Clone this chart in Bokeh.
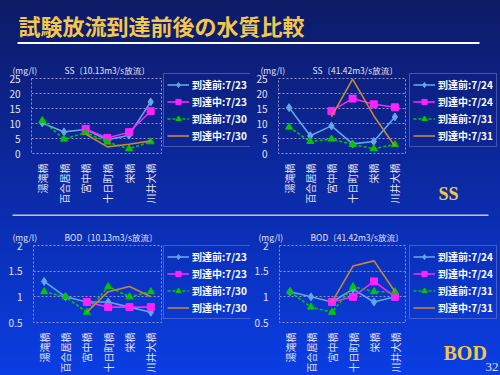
from math import pi
import numpy as np
from bokeh.plotting import figure
from bokeh.layouts import column, row
from bokeh.models import (Legend, LegendItem, Label, BoxAnnotation, FixedTicker,
                          Range1d, Plot)
from bokeh.embed import file_html
from bokeh.resources import INLINE

nan = float("nan")

# ---------------- data ----------------
stations = ["湯滝橋", "百合居橋", "宮中橋", "十日町橋", "栄橋", "川井大橋"]

ss1_labels = ["到達前:7/23", "到達中:7/23", "到達前:7/30", "到達中:7/30"]
ss1_pre_a = [10.2, 7.2, 8.0, 4.6, 6.1, 17.2]
ss1_mid_a = [nan, nan, 8.2, 5.2, 7.1, 14.1]
ss1_pre_b = [11.0, 4.8, 7.0, 3.8, 1.6, 3.9]
ss1_mid_b = [nan, nan, 6.5, 2.2, 3.1, 4.2]

ss2_labels = ["到達前:7/24", "到達中:7/24", "到達前:7/31", "到達中:7/31"]
ss2_pre_a = [15.3, 5.9, 9.2, 3.2, 4.0, 12.2]
ss2_mid_a = [nan, nan, 14.2, 18.3, 16.4, 15.4]
ss2_pre_b = [8.8, 4.0, 4.8, 3.0, 1.6, 3.0]
ss2_mid_b = [nan, nan, 12.2, 24.8, 12.6, 2.4]

bod1_labels = ss1_labels
bod1_pre_a = [1.3, 1.0, 0.9, 0.9, 0.8, 0.7]
bod1_mid_a = [nan, nan, 0.9, 0.8, 0.8, 0.8]
bod1_pre_b = [1.1, 1.0, 0.7, 1.2, 1.0, 1.1]
bod1_mid_b = [nan, nan, 0.7, 1.1, 1.2, 1.0]

bod2_labels = ss2_labels
bod2_pre_a = [1.1, 1.0, 0.9, 1.15, 0.9, 1.0]
bod2_mid_a = [nan, nan, 0.9, 1.0, 1.3, 1.0]
bod2_pre_b = [1.1, 0.8, 0.7, 1.2, 1.1, 1.1]
bod2_mid_b = [nan, nan, 0.9, 1.6, 1.7, 1.1]

ss_ticks = [0, 5, 10, 15, 20, 25]
bod_ticks = [0.5, 1, 1.5, 2]
bod_tick_labels = ["0.5", "1", "1.5", "2"]

main_title = "試験放流到達前後の水質比較"
ss1_title = "SS〔10.13m3/s放流〕"
ss2_title = "SS〔41.42m3/s放流〕"
bod1_title = "BOD〔10.13m3/s放流〕"
bod2_title = "BOD〔41.42m3/s放流〕"
unit_text = "(mg/l)"

# ---------------- style ----------------
JP = "Noto Sans CJK JP"
COLORS = ["#62a6e6", "#ff22ff", "#00c800", "#c8843c"]
MARKERS = ["diamond", "square", "triangle", None]
SIZES = [8, 7, 7, 0]
DASHES = ["solid", "solid", "3 2", "solid"]
TXT = "#e2e2f4"
GRID = "#9494cc"
GOLD = "#f3c84a"
HAS_FA = "frame_align" in Plot.properties()


def draw_series(p, xs, series):
    """Draw the four series on p; returns a list of renderer lists."""
    out = []
    for vals, c, m, s, d in zip(series, COLORS, MARKERS, SIZES, DASHES):
        y = np.array(vals, dtype=float)
        rs = [p.line(x=xs, y=y, line_color=c, line_width=1.6, line_dash=d)]
        if m:
            rs.append(p.scatter(x=xs, y=y, marker=m, size=s,
                                fill_color=c, line_color=c))
        out.append(rs)
    return out


def chart(width, height, left, right, top, bottom, yr, ticks, overrides,
          head, series, title_offset):
    p = figure(width=width, height=height, x_range=stations,
               y_range=Range1d(*yr), output_backend="svg",
               toolbar_location=None, min_border_left=left,
               min_border_right=right, min_border_top=top,
               min_border_bottom=bottom, background_fill_alpha=0,
               border_fill_alpha=0, outline_line_color=GRID,
               outline_line_dash="2 2", outline_line_width=1)
    p.title.text = unit_text + "\u3000\u3000\u3000\u00a0" + head
    p.title.text_font = JP
    p.title.text_font_size = "8.5px"
    p.title.text_font_style = "normal"
    p.title.text_color = TXT
    p.title.align = "left"
    p.title.offset = title_offset
    p.title.standoff = 6

    xa = p.xaxis[0]
    xa.major_label_orientation = pi / 2
    xa.major_label_text_font = JP
    xa.major_label_text_font_size = "10px"
    xa.major_label_text_color = TXT
    xa.axis_line_color = None
    xa.major_tick_line_color = None
    xa.minor_tick_line_color = None
    xa.major_label_standoff = 4

    ya = p.yaxis[0]
    ya.ticker = FixedTicker(ticks=ticks)
    if overrides:
        ya.major_label_overrides = overrides
    ya.major_label_text_font = JP
    ya.major_label_text_font_size = "10px"
    ya.major_label_text_color = TXT
    ya.axis_line_color = None
    ya.major_tick_line_color = None
    ya.minor_tick_line_color = None
    ya.major_label_standoff = 5

    p.xgrid.grid_line_color = None
    p.ygrid.ticker = FixedTicker(ticks=ticks)
    p.ygrid.grid_line_color = GRID
    p.ygrid.grid_line_dash = "2 2"

    draw_series(p, stations, series)
    return p


def blank(w, h, top=0):
    f = figure(width=w, height=h, x_range=Range1d(0, w),
               y_range=Range1d(0, h - top),
               output_backend="svg", toolbar_location=None, x_axis_type=None,
               y_axis_type=None, min_border=0, min_border_left=0,
               min_border_right=0, min_border_top=top, min_border_bottom=0,
               outline_line_color=None, background_fill_alpha=0,
               border_fill_alpha=0)
    f.grid.visible = False
    if HAS_FA:
        f.frame_align = False
    return f


def legend_fig(w, h, labels, top_gap):
    f = blank(w, h, top_gap)
    # legend swatches: same styles; a single NaN placeholder so nothing is drawn
    rs = draw_series(f, [nan], [[nan] for _ in labels])
    items = [LegendItem(label=lab, renderers=r) for lab, r in zip(labels, rs)]
    leg = Legend(items=items, location="top_left", margin=0,
                 padding=3, spacing=2, glyph_width=22, glyph_height=13,
                 label_height=13, label_standoff=3,
                 label_text_font=JP, label_text_font_size="10px",
                 label_text_font_style="bold", label_text_color="white",
                 background_fill_alpha=0, border_line_color="#7c88c8",
                 border_line_width=1)
    f.add_layout(leg, "center")
    return f


# ---------------- header ----------------
head = blank(500, 58)
head.add_layout(Label(x=18, y=34, text=main_title, text_font=JP,
                      text_font_size="22px", text_font_style="bold",
                      text_color=GOLD, text_baseline="middle"))
head.add_layout(BoxAnnotation(left=17, right=479, bottom=14.5, top=16.5,
                              fill_color="white", fill_alpha=1, line_color=None))

# separator strip: page y 208..218, line at ~212
sep = blank(500, 10)
sep.add_layout(BoxAnnotation(left=12, right=488, bottom=4.5, top=6,
                             fill_color="#d0d8f8", fill_alpha=0.9, line_color=None))

bod_over = {t: l for t, l in zip(bod_ticks, bod_tick_labels)}

p1 = chart(163, 150, 31, 2, 15, 55, (0, 25), ss_ticks, None, ss1_title,
           [ss1_pre_a, ss1_mid_a, ss1_pre_b, ss1_mid_b], -19)
l1 = legend_fig(87, 150, ss1_labels, 15)
p2 = chart(159, 150, 28, 4, 15, 55, (0, 25), ss_ticks, None, ss2_title,
           [ss2_pre_a, ss2_mid_a, ss2_pre_b, ss2_mid_b], -18)
l2 = legend_fig(91, 150, ss2_labels, 15)
p3 = chart(163, 157, 33, 2, 27, 52, (0.5, 2), bod_ticks, bod_over, bod1_title,
           [bod1_pre_a, bod1_mid_a, bod1_pre_b, bod1_mid_b], -21)
l3 = legend_fig(87, 157, bod1_labels, 27)
p4 = chart(159, 157, 29, 4, 27, 52, (0.5, 2), bod_ticks, bod_over, bod2_title,
           [bod2_pre_a, bod2_mid_a, bod2_pre_b, bod2_mid_b], -21)
l4 = legend_fig(91, 157, bod2_labels, 27)

l2.add_layout(Label(x=29, y=14.5, text="SS", text_font="Liberation Serif",
                    text_font_size="18px", text_font_style="bold",
                    text_color=GOLD, text_baseline="middle"))
l4.add_layout(Label(x=34, y=22.5, text="BOD", text_font="Liberation Serif",
                    text_font_size="20px", text_font_style="bold",
                    text_color=GOLD, text_baseline="middle"))
l4.add_layout(Label(x=76, y=9, text="32", text_font="Liberation Serif",
                    text_font_size="13px", text_color="#e0e0e0",
                    text_baseline="middle"))

layout = column(head, row(p1, l1, p2, l2, spacing=0), sep,
                row(p3, l3, p4, l4, spacing=0), spacing=0)

html = file_html(layout, INLINE)
css = ("<style>html{min-height:100%;background:linear-gradient(180deg,#0d1a66 0%,"
       "#0b28a0 45%,#0a3ee4 100%) fixed;}body{background:transparent;}</style>")
html = html.replace("</head>", css + "</head>", 1)
open("out.html", "w").write(html)
